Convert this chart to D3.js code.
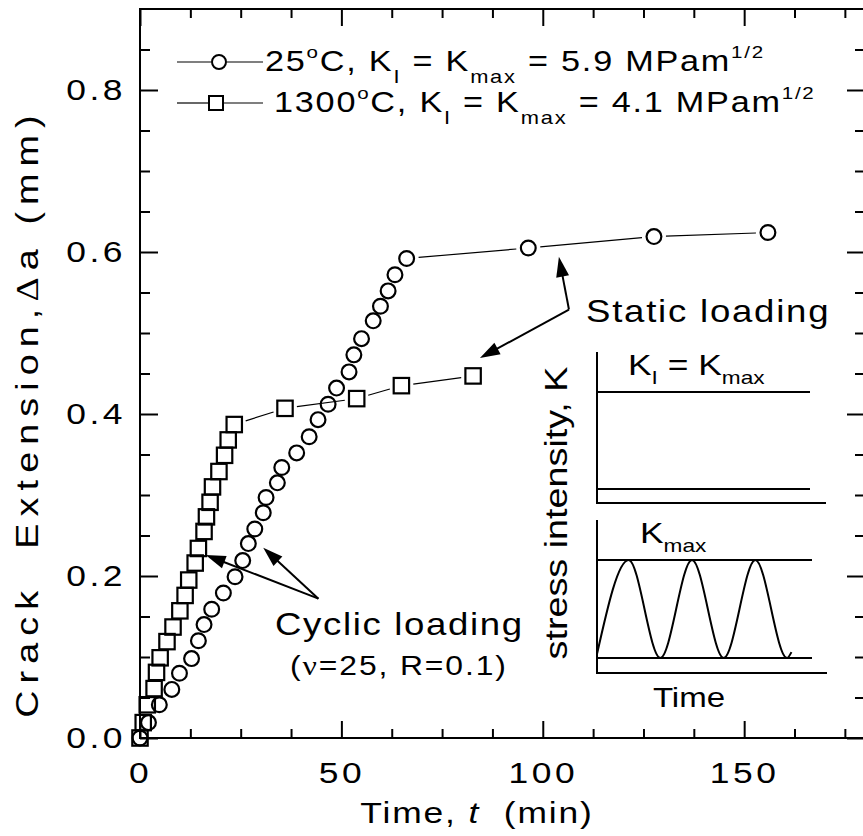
<!DOCTYPE html>
<html>
<head>
<meta charset="utf-8">
<script src="https://cdn.jsdelivr.net/npm/d3@7"></script>
<style>
body { margin: 0; background: #fff; }
svg text { font-family: "Liberation Sans", Arial, sans-serif; fill: #000; }
</style>
</head>
<body>
<div id="chart"></div>
<script>
// 25 C, K_I = K_max = 5.9 MPa m^1/2 (circles)
const roomTime = [0, 2.1, 4.8, 7.9, 9.8, 12.8, 14.5, 15.9, 17.8, 20.7, 23.6, 25.5, 26.9, 28.5, 30.6, 31.3, 34.1,
    35.2, 38.9, 42.0, 44.2, 46.7, 48.8, 51.9, 53.1, 55.0, 57.9, 59.7, 61.6, 63.3, 66.2, 96.4, 127.6, 155.9];
const roomDa = [0, 0.019, 0.041, 0.060, 0.080, 0.098, 0.120, 0.140, 0.159, 0.179, 0.199, 0.219, 0.240, 0.258,
    0.278, 0.297, 0.315, 0.334, 0.352, 0.372, 0.393, 0.412, 0.432, 0.452, 0.473, 0.493, 0.515, 0.533, 0.552,
    0.572, 0.592, 0.605, 0.619, 0.624];

// 1300 C, K_I = K_max = 4.1 MPa m^1/2 (squares)
const hotTime = [0, 0.8, 1.8, 3.5, 4.1, 5.0, 6.7, 8.2, 9.9, 11.2, 12.1, 13.7, 14.5, 15.9, 16.5, 17.4, 18.0,
    19.6, 21.0, 21.9, 23.4, 36.0, 53.8, 64.9, 82.7];
const hotDa = [0, 0.019, 0.041, 0.061, 0.081, 0.099, 0.119, 0.137, 0.157, 0.176, 0.195, 0.216, 0.234, 0.255,
    0.273, 0.291, 0.310, 0.329, 0.349, 0.368, 0.387, 0.407, 0.419, 0.435, 0.447];

const xTicks = [0, 50, 100, 150];
const yTicks = [0, 0.2, 0.4, 0.6, 0.8];

// schematic load wave in the lower inset (cycles, K / K_max)
const waveCycle = [0, 0.5, 1, 1.5, 2, 2.5, 3, 3.07];
const waveK = [0.04, 1, 0, 1, 0, 1, 0, 0.06];

const w = 863;
const h = 836;
const SX = 1.18; // the original lettering is wider than Arial

const svg = d3.select("#chart").append("svg")
    .attr("width", w)
    .attr("height", h);

const xScale = d3.scaleLinear().domain([0, 180]).range([140, 865]);
const yScale = d3.scaleLinear().domain([0, 0.9]).range([738, 9]);

/**
 * text in a group that is stretched horizontally; parts are [text, kind]
 */
function label(px, py, parts, opt) {
    const g = svg.append("g")
        .attr("transform", `translate(${px},${py})${opt.rotate ? " rotate(-90)" : ""} scale(${SX},1)`);
    const t = g.append("text")
        .attr("font-size", opt.size)
        .attr("letter-spacing", opt.ls || 0)
        .attr("text-anchor", opt.anchor || "start")
        .style("white-space", "pre");
    let shift = 0;
    for (const [str, kind] of parts) {
        let target = 0;
        let size = opt.size;
        if (kind === "sub") { target = opt.subShift || opt.size * 0.4; size = opt.size * 0.64; }
        if (kind === "sup") { target = -(opt.supShift || opt.size * 0.42); size = opt.size * 0.6; }
        const ts = t.append("tspan")
            .attr("dy", target - shift)
            .attr("font-size", size)
            .text(str);
        if (kind === "it") ts.attr("font-style", "italic");
        if (kind === "sym") ts.style("font-family", "'Liberation Serif', serif");
        shift = target;
    }
    return t;
}

// ---- axes, ticks inward on all four sides
const minorX = d3.range(0, 181, 12.5).filter((d) => !xTicks.includes(d));
const minorY = d3.range(0.05, 0.9, 0.05).map((d) => +d.toFixed(2)).filter((d) => !yTicks.includes(d));

function tickAxis(axis, pos, values, size) {
    const g = svg.append("g")
        .attr("transform", pos)
        .call(axis.tickValues(values).tickSize(size).tickFormat(""));
    g.select(".domain").remove();
    g.selectAll("line").attr("stroke-width", 2);
    return g;
}

tickAxis(d3.axisBottom(xScale), "translate(0,738)", minorX, -9);
tickAxis(d3.axisTop(xScale), "translate(0,9)", minorX, -9);
tickAxis(d3.axisTop(xScale), "translate(0,9)", xTicks, -17);
tickAxis(d3.axisLeft(yScale), "translate(140,0)", minorY, -10);
tickAxis(d3.axisRight(yScale), "translate(865,0)", minorY, -10);
tickAxis(d3.axisRight(yScale), "translate(865,0)", yTicks, -18);

const xAxis = svg.append("g")
    .attr("transform", "translate(0,738)")
    .call(d3.axisBottom(xScale).tickValues(xTicks).tickSize(-17).tickPadding(24).tickFormat(d3.format("d")));
xAxis.select(".domain").remove();
xAxis.selectAll("line").attr("stroke-width", 2);
xAxis.selectAll("text")
    .attr("font-size", 30)
    .attr("font-family", "'Liberation Sans', Arial, sans-serif")
    .attr("letter-spacing", 3)
    .attr("transform", `scale(${SX},1)`);

const yAxis = svg.append("g")
    .attr("transform", "translate(140,0)")
    .call(d3.axisLeft(yScale).tickValues(yTicks).tickSize(-18).tickPadding(14).tickFormat(d3.format(".1f")));
yAxis.select(".domain").remove();
yAxis.selectAll("line").attr("stroke-width", 2);
yAxis.selectAll("text")
    .attr("font-size", 30)
    .attr("font-family", "'Liberation Sans', Arial, sans-serif")
    .attr("letter-spacing", 3)
    .attr("dy", "0.3em")
    .attr("x", -14 / SX)
    .attr("transform", `scale(${SX},1)`);

svg.append("rect")
    .attr("x", xScale(0))
    .attr("y", yScale(0.9))
    .attr("width", xScale(180) - xScale(0))
    .attr("height", yScale(0) - yScale(0.9))
    .attr("fill", "none")
    .attr("stroke", "#000")
    .attr("stroke-width", 2);

label(38, 413, [["Crack  Extension,"], ["Δ", "sym"], ["a (mm)"]], { size: 32, ls: 6, anchor: "middle", rotate: true });
label(477, 823, [["Time, "], ["t", "it"], ["  (min)"]], { size: 30, ls: 1.6, anchor: "middle" });

// ---- data: thin connecting lines with a gap round each symbol, then open symbols
function series(ts, vs, shape) {
    const pts = ts.map((t, i) => [xScale(t), yScale(vs[i])]);
    const gap = 12;
    const segs = d3.pairs(pts).filter(([a, b]) => Math.hypot(b[0] - a[0], b[1] - a[1]) > 2 * gap + 2);
    svg.append("g").selectAll("line")
        .data(segs)
        .enter()
        .append("line")
        .attr("x1", ([a, b]) => a[0] + (b[0] - a[0]) * gap / Math.hypot(b[0] - a[0], b[1] - a[1]))
        .attr("y1", ([a, b]) => a[1] + (b[1] - a[1]) * gap / Math.hypot(b[0] - a[0], b[1] - a[1]))
        .attr("x2", ([a, b]) => b[0] - (b[0] - a[0]) * gap / Math.hypot(b[0] - a[0], b[1] - a[1]))
        .attr("y2", ([a, b]) => b[1] - (b[1] - a[1]) * gap / Math.hypot(b[0] - a[0], b[1] - a[1]))
        .attr("stroke", "#000")
        .attr("stroke-width", 1.2);

    const g = svg.append("g").attr("fill", "none").attr("stroke", "#000").attr("stroke-width", 2.2);
    if (shape === "circle") {
        g.selectAll("circle").data(pts).enter().append("circle")
            .attr("cx", (d) => d[0]).attr("cy", (d) => d[1]).attr("r", 7.4);
    } else {
        g.selectAll("rect").data(pts).enter().append("rect")
            .attr("x", (d) => d[0] - 7.7).attr("y", (d) => d[1] - 7.7)
            .attr("width", 15.4).attr("height", 15.4);
    }
}

series(hotTime, hotDa, "square");
series(roomTime, roomDa, "circle");

// ---- legend
const legend = svg.append("g").attr("stroke", "#000");
legend.append("line").attr("x1", 177).attr("x2", 211).attr("y1", 62).attr("y2", 62).attr("stroke-width", 1.2);
legend.append("line").attr("x1", 227).attr("x2", 263).attr("y1", 62).attr("y2", 62).attr("stroke-width", 1.2);
legend.append("circle").attr("cx", 219).attr("cy", 62).attr("r", 7).attr("fill", "none").attr("stroke-width", 2);
legend.append("line").attr("x1", 177).attr("x2", 208).attr("y1", 103).attr("y2", 103).attr("stroke-width", 1.2);
legend.append("line").attr("x1", 224).attr("x2", 263).attr("y1", 103).attr("y2", 103).attr("stroke-width", 1.2);
legend.append("rect").attr("x", 209).attr("y", 96).attr("width", 14).attr("height", 14).attr("fill", "none").attr("stroke-width", 2);

const legendOpt = { size: 29, ls: 1.5, subShift: 12, supShift: 13 };
label(265, 71, [["25"], ["o", "sup"], ["C, K"], ["I", "sub"], [" = K"], ["max", "sub"], [" = 5.9 MPam"], ["1/2", "sup"]], legendOpt);
label(274, 112, [["1300"], ["o", "sup"], ["C, K"], ["I", "sub"], [" = K"], ["max", "sub"], [" = 4.1 MPam"], ["1/2", "sup"]], legendOpt);

// ---- annotations
function arrow(from, to) {
    const [x1, y1] = [xScale(from[0]), yScale(from[1])];
    const [x2, y2] = [xScale(to[0]), yScale(to[1])];
    const len = Math.hypot(x2 - x1, y2 - y1);
    const ux = (x2 - x1) / len;
    const uy = (y2 - y1) / len;
    const hl = 20;
    const hw = 6.5;
    svg.append("line")
        .attr("x1", x1).attr("y1", y1)
        .attr("x2", x2 - ux * hl * 0.8).attr("y2", y2 - uy * hl * 0.8)
        .attr("stroke", "#000").attr("stroke-width", 2);
    svg.append("path")
        .attr("d", `M${x2},${y2}L${x2 - ux * hl - uy * hw},${y2 - uy * hl + ux * hw}L${x2 - ux * hl + uy * hw},${y2 - uy * hl - ux * hw}Z`)
        .attr("fill", "#000");
}

const staticBend = [106.5, 0.529];
arrow(staticBend, [104.0, 0.594]);
arrow(staticBend, [84.4, 0.469]);
const cyclicTail = [44.3, 0.172];
arrow(cyclicTail, [30.6, 0.235]);
arrow(cyclicTail, [16.3, 0.226]);

label(586, 322, [["Static loading"]], { size: 31, ls: 1.5 });
label(275, 635, [["Cyclic loading"]], { size: 31, ls: 1.4 });
label(290, 675, [["("], ["ν", "sym"], ["=25, R=0.1)"]], { size: 27, ls: 1.6 });

// ---- inset: static and cyclic stress intensity versus time
const inset = svg.append("g").attr("stroke", "#000").attr("stroke-width", 2).attr("fill", "none");
const insetLeft = 597;
// static panel
inset.append("path").attr("d", `M${insetLeft},352V503H826`);
const staticK = d3.scaleLinear().domain([0, 1]).range([489, 392]);
inset.append("line").attr("x1", insetLeft).attr("x2", 810).attr("y1", staticK(1)).attr("y2", staticK(1));
inset.append("line").attr("x1", insetLeft).attr("x2", 810).attr("y1", staticK(0)).attr("y2", staticK(0));
// cyclic panel
inset.append("path").attr("d", `M${insetLeft},520V673H827`);
const cyclicK = d3.scaleLinear().domain([0, 1]).range([658, 560]);
const cyclicT = d3.scaleLinear().domain([0, 3]).range([insetLeft, 787]);
inset.append("line").attr("x1", insetLeft).attr("x2", 812).attr("y1", cyclicK(1)).attr("y2", cyclicK(1));
inset.append("line").attr("x1", insetLeft).attr("x2", 812).attr("y1", cyclicK(0)).attr("y2", cyclicK(0));
inset.append("path")
    .datum(waveCycle.map((c, i) => [c, waveK[i]]))
    .attr("d", d3.line().x((d) => cyclicT(d[0])).y((d) => cyclicK(d[1])).curve(d3.curveMonotoneX));

label(628, 375, [["K"], ["I", "sub"], [" = K"], ["max", "sub"]], { size: 30, subShift: 9 });
label(640, 543, [["K"], ["max", "sub"]], { size: 30, subShift: 9 });
label(567, 513, [["stress intensity, K"]], { size: 32, anchor: "middle", rotate: true });
label(689, 707, [["Time"]], { size: 28, anchor: "middle" });
</script>
</body>
</html>
